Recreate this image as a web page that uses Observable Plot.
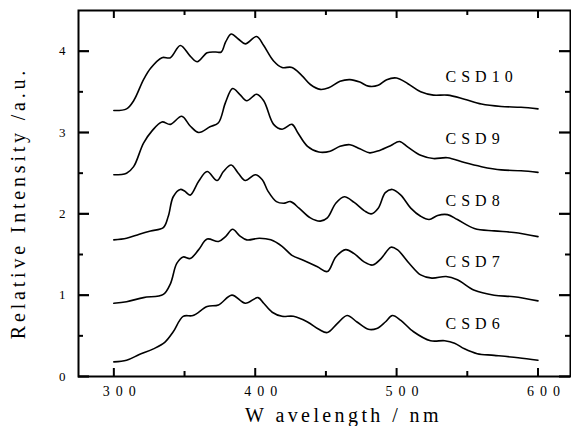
<!DOCTYPE html>
<html><head><meta charset="utf-8">
<script src="https://cdn.jsdelivr.net/npm/d3@7"></script>
<script src="https://cdn.jsdelivr.net/npm/@observablehq/plot@0.6"></script>
<style>
body{margin:0;background:#fff;}
#chart svg{display:block;}
</style></head><body><div id="chart"></div>
<script>
// Wavelength (nm), relative intensity (a.u.)
const csd10 = [[300,3.27],[309,3.29],[314,3.39],[321,3.65],[326,3.79],[334,3.92],[340,3.92],[347,4.07],[354,3.94],[359,3.87],[366,3.98],[372,3.99],[376,3.99],[379,4.11],[383,4.21],[388,4.15],[393,4.09],[401,4.18],[406,4.07],[413,3.88],[419,3.80],[426,3.80],[433,3.70],[439,3.59],[446,3.53],[452,3.55],[460,3.63],[467,3.65],[474,3.62],[480,3.57],[487,3.58],[493,3.65],[500,3.67],[508,3.60],[517,3.50],[526,3.46],[536,3.46],[548,3.41],[560,3.35],[574,3.32],[588,3.31],[600,3.29]];
const csd9 = [[300,2.48],[309,2.50],[314,2.58],[321,2.87],[327,3.02],[334,3.13],[340,3.10],[348,3.20],[354,3.08],[360,3.00],[368,3.07],[374,3.12],[379,3.37],[384,3.54],[389,3.47],[394,3.39],[401,3.47],[406,3.39],[413,3.10],[419,3.04],[426,3.10],[430,3.00],[437,2.83],[445,2.76],[453,2.77],[460,2.83],[467,2.85],[474,2.80],[481,2.75],[488,2.78],[496,2.84],[502,2.89],[508,2.82],[517,2.72],[526,2.68],[536,2.69],[548,2.63],[560,2.58],[574,2.54],[588,2.53],[600,2.51]];
const csd8 = [[300,1.68],[309,1.70],[318,1.75],[326,1.79],[335,1.83],[338.5,1.97],[342,2.21],[347,2.30],[350,2.28],[354,2.23],[360,2.40],[366,2.52],[373,2.41],[377.5,2.52],[383,2.60],[388,2.50],[393,2.41],[400,2.48],[405,2.42],[409,2.28],[415,2.15],[420,2.13],[425,2.15],[431,2.07],[439,1.95],[446,1.91],[451,1.95],[457,2.13],[463,2.21],[470,2.14],[477,2.04],[482,2.00],[487,2.07],[492,2.26],[497,2.30],[503,2.23],[510,2.07],[517,1.97],[523,1.93],[529,1.98],[536,1.99],[543,1.93],[555,1.82],[569,1.79],[583,1.77],[600,1.72]];
const csd7 = [[300,0.90],[309,0.92],[321,0.97],[335,1.01],[340,1.14],[344.5,1.39],[349,1.47],[354,1.45],[360,1.56],[366,1.69],[374,1.66],[379,1.72],[384,1.81],[389,1.73],[394,1.68],[403,1.70],[411,1.68],[419,1.60],[426,1.49],[434,1.43],[444,1.35],[451,1.29],[457,1.47],[464,1.56],[470,1.51],[477,1.41],[483,1.37],[489,1.45],[496,1.59],[500.5,1.56],[509,1.39],[517,1.25],[525,1.21],[535,1.23],[543,1.19],[555,1.06],[569,1.00],[583,0.98],[600,0.93]];
const csd6 = [[300,0.18],[309,0.20],[318,0.27],[328,0.34],[336,0.42],[342,0.55],[349,0.74],[356,0.75],[366,0.86],[374,0.88],[383.5,1.00],[393,0.90],[402,0.97],[406,0.90],[412,0.79],[419,0.74],[427,0.74],[437,0.67],[445,0.58],[451,0.54],[458,0.65],[465,0.75],[472,0.67],[480,0.58],[486,0.59],[492,0.67],[497,0.75],[503,0.69],[512,0.55],[524,0.44],[534,0.44],[541,0.41],[548,0.34],[557,0.28],[569,0.26],[586,0.23],[600,0.20]];

const seriesNames = ["CSD10","CSD9","CSD8","CSD7","CSD6"];
const seriesData = [csd10, csd9, csd8, csd7, csd6];
const labelY = [3.685, 2.92, 2.164, 1.405, 0.642];
const labelX = 534.6;

const xMajor = [300, 400, 500, 600];
const xMinor = [350, 450, 550];
const yMajor = [0, 1, 2, 3, 4];
const yMinor = [0.5, 1.5, 2.5, 3.5];
const xTitle = "W avelength / nm";
const yTitle = "Relative Intensity /a.u.";

const rows = seriesNames.flatMap((name, i) => seriesData[i].map(([w, v]) => ({name, w, v})));
const labels = seriesNames.map((name, i) => ({name, x: labelX, y: labelY[i]}));

const W = 571, H = 426, mL = 78, mR = 1, mT = 10, mB = 50;
const fw = W - mL - mR, fh = H - mT - mB;

const chart = Plot.plot({
  width: W, height: H,
  marginLeft: mL, marginRight: mR, marginTop: mT, marginBottom: mB,
  style: {fontFamily: "'Liberation Serif', serif", fontSize: "14px", color: "black", background: "white"},
  x: {domain: [275, 623]},
  y: {domain: [0, 4.5]},
  axis: null,
  marks: [
    Plot.frame({strokeWidth: 2}),
    Plot.line(rows, {x: "w", y: "v", z: "name", stroke: "black", strokeWidth: 1.6, curve: "catmull-rom"}),
    // inward ticks on all four sides
    Plot.tickX(xMajor, {x: d => d, insetTop: fh - 8, strokeWidth: 2}),
    Plot.tickX(xMajor, {x: d => d, insetBottom: fh - 8, strokeWidth: 2}),
    Plot.tickX(xMinor, {x: d => d, insetTop: fh - 5, strokeWidth: 2}),
    Plot.tickX(xMinor, {x: d => d, insetBottom: fh - 5, strokeWidth: 2}),
    Plot.tickY(yMajor, {y: d => d, insetRight: fw - 11, strokeWidth: 2.2}),
    Plot.tickY(yMajor, {y: d => d, insetLeft: fw - 11, strokeWidth: 2.2}),
    Plot.tickY(yMinor, {y: d => d, insetRight: fw - 5, strokeWidth: 2}),
    Plot.tickY(yMinor, {y: d => d, insetLeft: fw - 5, strokeWidth: 2}),
    Plot.axisX({anchor: "bottom", ticks: xMajor, tickSize: 0, tickPadding: 10, stroke: "none", label: null, dx: 8.5, fontSize: 14, tickFormat: d3.format("d")}),
    Plot.axisY({anchor: "left", ticks: yMajor, tickSize: 0, tickPadding: 13, stroke: "none", label: null, fontSize: 13, tickFormat: d3.format("d")}),
    Plot.text(labels, {x: "x", y: "y", text: "name", textAnchor: "start", lineAnchor: "middle", fontSize: 16}),
    Plot.text([xTitle], {frameAnchor: "bottom", text: d => d, textAnchor: "middle", dx: 19, dy: 38.6, lineAnchor: "middle", fontSize: 20}),
    Plot.text([yTitle], {frameAnchor: "left", text: d => d, textAnchor: "middle", rotate: -90, dx: -60, dy: 9.5, lineAnchor: "middle", fontSize: 20})
  ]
});

// letter spacing, as in the original typesetting
const spacing = new Map([[xTitle, "3.4px"], [yTitle, "3.8px"]]);
seriesNames.forEach(n => spacing.set(n, "5px"));
xMajor.forEach(v => spacing.set(String(v), "6px"));
d3.select(chart).selectAll("text").each(function() {
  const s = spacing.get(this.textContent);
  if (s) this.style.letterSpacing = s;
});
document.getElementById("chart").appendChild(chart);
</script></body></html>
